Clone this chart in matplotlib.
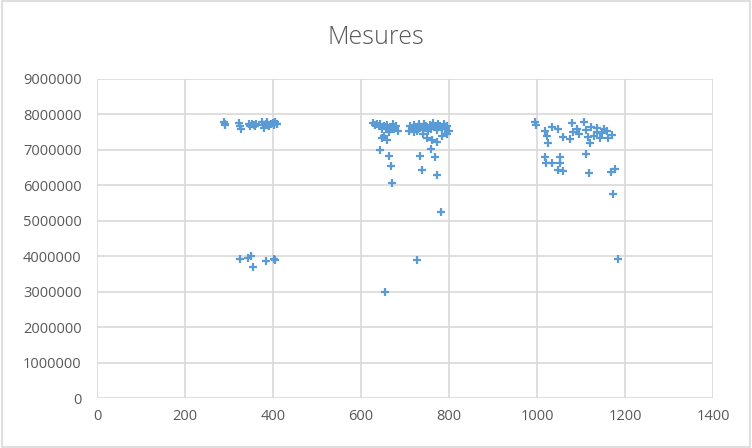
import matplotlib
matplotlib.use("Agg")
import matplotlib.pyplot as plt
from matplotlib.patches import Rectangle
from matplotlib.ticker import FuncFormatter

x_a = [288, 290, 292, 322, 324, 328, 345, 348, 352, 356, 360, 362,
       375, 378, 380, 384, 386, 390, 395, 400, 402, 405, 408, 410,
       325, 343, 350, 355, 384, 402, 405]
y_a = [7.78e6, 7.70e6, 7.74e6, 7.76e6, 7.66e6, 7.60e6, 7.72e6, 7.68e6,
       7.74e6, 7.70e6, 7.66e6, 7.72e6, 7.78e6, 7.70e6, 7.62e6, 7.74e6,
       7.80e6, 7.68e6, 7.72e6, 7.76e6, 7.70e6, 7.78e6, 7.72e6, 7.74e6,
       3.92e6, 3.95e6, 4.00e6, 3.70e6, 3.87e6, 3.92e6, 3.90e6]

x_b = [628, 632, 636, 640, 644, 648, 652, 656, 660, 664, 668, 672,
       676, 680, 684, 648, 652, 660, 664,
       708, 712, 716, 720, 724, 728, 732, 736, 740, 744, 748, 752,
       756, 760, 764, 768, 772, 776, 780, 784, 788, 792, 796, 800,
       720, 730, 740, 750, 762, 773, 785, 795,
       643, 664, 668, 670, 734, 739, 759, 768, 773, 782, 727, 655]
y_b = [7.76e6, 7.70e6, 7.74e6, 7.66e6, 7.72e6, 7.60e6, 7.68e6, 7.64e6,
       7.70e6, 7.56e6, 7.62e6, 7.72e6, 7.58e6, 7.66e6, 7.54e6, 7.34e6,
       7.40e6, 7.28e6, 7.50e6,
       7.52e6, 7.66e6, 7.58e6, 7.70e6, 7.62e6, 7.54e6, 7.72e6, 7.64e6,
       7.58e6, 7.74e6, 7.66e6, 7.52e6, 7.70e6, 7.60e6, 7.76e6, 7.64e6,
       7.56e6, 7.72e6, 7.68e6, 7.60e6, 7.74e6, 7.58e6, 7.66e6, 7.52e6,
       7.50e6, 7.60e6, 7.46e6, 7.34e6, 7.28e6, 7.22e6, 7.38e6, 7.44e6,
       7.00e6, 6.83e6, 6.55e6, 6.07e6, 6.83e6, 6.43e6, 7.02e6, 6.80e6,
       6.30e6, 5.25e6, 3.89e6, 2.99e6]

x_c = [995, 998, 1018, 1023, 1025, 1034, 1048, 1059, 1075, 1080, 1082,
       1107, 1111, 1123, 1116, 1120, 1111, 1136, 1136, 1143, 1148, 1159,
       1161, 1170, 1090, 1095, 1130, 1152,
       1018, 1052, 1020, 1034, 1052, 1048, 1059, 1118, 1168, 1177,
       1173, 1183]
y_c = [7.79e6, 7.70e6, 7.53e6, 7.39e6, 7.19e6, 7.65e6, 7.59e6, 7.36e6,
       7.31e6, 7.76e6, 7.50e6, 7.79e6, 7.56e6, 7.65e6, 7.36e6, 7.19e6,
       6.88e6, 7.62e6, 7.50e6, 7.34e6, 7.48e6, 7.53e6, 7.34e6, 7.42e6,
       7.58e6, 7.46e6, 7.40e6, 7.60e6,
       6.80e6, 6.80e6, 6.63e6, 6.63e6, 6.63e6, 6.43e6, 6.40e6, 6.35e6,
       6.38e6, 6.46e6, 5.76e6, 3.92e6]

x_vals = x_a + x_b + x_c
y_vals = y_a + y_b + y_c

x_ticks = [0, 200, 400, 600, 800, 1000, 1200, 1400]
y_ticks = [0, 1e6, 2e6, 3e6, 4e6, 5e6, 6e6, 7e6, 8e6, 9e6]

plt.rcParams['font.family'] = ['Open Sans', 'DejaVu Sans']

fig = plt.figure(figsize=(7.52, 4.48), dpi=100)
fig.patch.set_facecolor('white')
fig.patches.append(Rectangle((0.002, 0.002), 0.996, 0.996, transform=fig.transFigure,
                             fill=False, edgecolor='#D9D9D9', linewidth=1.2))

ax = fig.add_axes([97 / 752, 50 / 448, 616 / 752, 319 / 448])
ax.scatter(x_vals, y_vals, marker='+', s=28, linewidths=1.6, color='#5B9BD5', zorder=3)

ax.set_xlim(0, 1400)
ax.set_ylim(0, 9e6)
ax.set_xticks(x_ticks)
ax.set_yticks(y_ticks)
ax.yaxis.set_major_formatter(FuncFormatter(lambda v, p: f"{int(v)}"))
ax.grid(True, color='#D9D9D9', linewidth=1.2)
ax.set_axisbelow(True)
for s in ax.spines.values():
    s.set_visible(False)
ax.tick_params(axis='y', length=0, labelsize=10.5, colors='#595959', pad=11)
ax.tick_params(axis='x', length=0, labelsize=10.5, colors='#595959', pad=8)

fig.text(0.5, 1 - 37 / 448, "Mesures", ha='center', va='center',
         fontsize=18, fontweight='light', color='#595959')

fig.savefig('out.png', dpi=100)
